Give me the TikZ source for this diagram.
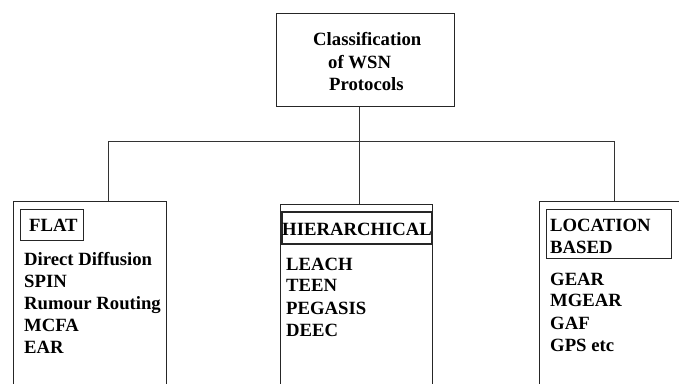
\documentclass[tikz,border=0pt]{standalone}
\usepackage{fontspec}
\setmainfont{Liberation Serif}
\begin{document}
\begin{tikzpicture}[x=1pt,y=-1pt,
  line/.style={draw=black!80,line width=1pt},
  lbl/.style={anchor=base west,inner sep=0pt,font=\fontsize{18.7}{22}\selectfont\bfseries},
  framebox/.style={draw=black!85,line width=1pt,inner sep=0pt,anchor=north west}]
\useasboundingbox (0,0) rectangle (679,383);
\clip (0,0) rectangle (679,383);
% top box
\node[framebox,minimum width=178pt,minimum height=93pt] (top) at (276,13) {};
\node[lbl] (t1) at (313,45) {Classification};
\node[lbl] (t2) at (328,68) {of WSN};
\node[lbl] (t3) at (329,90) {Protocols};
% junction coordinates
\coordinate (jm) at (359,141);
\coordinate (jl) at (108,141);
\coordinate (jr) at (614,141);
% category boxes (extend below page)
\node[framebox,minimum width=153pt,minimum height=200pt] (flat) at (13,201) {};
\node[framebox,minimum width=152pt,minimum height=200pt] (hier) at (280,204) {};
\node[framebox,minimum width=160pt,minimum height=200pt] (loc) at (539,201) {};
% connectors
\draw[line] (jm |- top.south) -- (jm);
\draw[line] (jl) -- (jr);
\draw[line] (jl) -- (jl |- flat.north);
\draw[line] (jm) -- (jm |- hier.north);
\draw[line] (jr) -- (jr |- loc.north);
% heading boxes
\node[framebox,minimum width=63pt,minimum height=31pt] (flath) at (20,209) {};
\node[framebox,line width=1.8pt,minimum width=150pt,minimum height=32pt] (hierh) at (281,211) {};
\node[framebox,minimum width=125pt,minimum height=49pt] (loch) at (546,209) {};
% headings
\node[lbl] (hflat) at (29,231.7) {FLAT};
\node[lbl] (hhier) at (282,235) {HIERARCHICAL};
\node[lbl] (hloc1) at (550,231.7) {LOCATION};
\node[lbl] (hloc2) at (550,253.3) {BASED};
% items
\node[lbl] (f1) at (24,265) {Direct Diffusion};
\node[lbl] (f2) at (24,287.3) {SPIN};
\node[lbl] (f3) at (24,309) {Rumour Routing};
\node[lbl] (f4) at (24,331) {MCFA};
\node[lbl] (f5) at (24,353) {EAR};
\node[lbl] (h1) at (286,270) {LEACH};
\node[lbl] (h2) at (286,291.7) {TEEN};
\node[lbl] (h3) at (286,314) {PEGASIS};
\node[lbl] (h4) at (286,336) {DEEC};
\node[lbl] (l1) at (550,285) {GEAR};
\node[lbl] (l2) at (550,306.7) {MGEAR};
\node[lbl] (l3) at (550,329) {GAF};
\node[lbl] (l4) at (550,351.7) {GPS etc};
\end{tikzpicture}
\end{document}
